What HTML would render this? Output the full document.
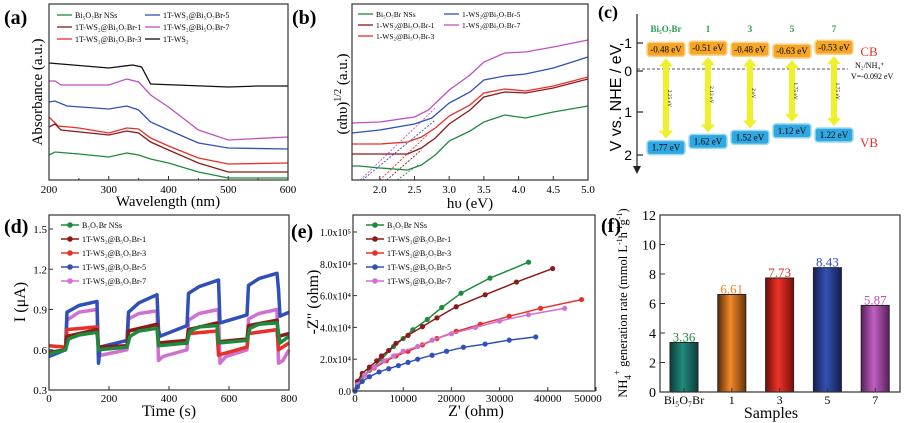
<!DOCTYPE html>
<html><head><meta charset="utf-8"><style>
html,body{margin:0;padding:0;background:#fff;}
svg{display:block;font-family:"Liberation Serif",serif;}
</style></head><body>
<svg id="fig" width="910" height="423" viewBox="0 0 910 423" xmlns="http://www.w3.org/2000/svg">
<defs>
<linearGradient id="gTeal" x1="0" x2="1"><stop offset="0" stop-color="#0c3d38"/><stop offset="0.45" stop-color="#1f8a7e"/><stop offset="1" stop-color="#0c3d38"/></linearGradient>
<linearGradient id="gOrange" x1="0" x2="1"><stop offset="0" stop-color="#5a2a05"/><stop offset="0.45" stop-color="#f5892a"/><stop offset="1" stop-color="#6a3308"/></linearGradient>
<linearGradient id="gRed" x1="0" x2="1"><stop offset="0" stop-color="#6a0e0a"/><stop offset="0.45" stop-color="#ee3328"/><stop offset="1" stop-color="#7a100c"/></linearGradient>
<linearGradient id="gBlue" x1="0" x2="1"><stop offset="0" stop-color="#151f55"/><stop offset="0.45" stop-color="#3550b0"/><stop offset="1" stop-color="#151f55"/></linearGradient>
<linearGradient id="gMag" x1="0" x2="1"><stop offset="0" stop-color="#5a1f5c"/><stop offset="0.45" stop-color="#c060c0"/><stop offset="1" stop-color="#5a1f5c"/></linearGradient>
</defs>
</svg>
<script>
// ---------- Panel (a) data ----------
const aWave = {
  black:[[200,1.17],[300,1.12],[340,1.15],[355,1.13],[370,0.96],[500,0.93],[550,0.94],[600,0.94]],
  magenta:[[200,0.99],[210,0.99],[220,0.95],[300,0.95],[330,1.01],[350,0.98],[370,0.85],[400,0.73],[450,0.50],[500,0.40],[600,0.43]],
  blue:[[200,0.78],[210,0.79],[230,0.74],[300,0.71],[330,0.74],[350,0.70],[370,0.58],[400,0.50],[450,0.37],[500,0.32],[600,0.31]],
  red:[[200,0.63],[215,0.54],[250,0.52],[300,0.47],[330,0.52],[350,0.51],[370,0.42],[400,0.34],[450,0.22],[500,0.16],[600,0.17]],
  darkred:[[200,0.53],[210,0.56],[220,0.50],[300,0.45],[330,0.49],[350,0.47],[370,0.38],[400,0.30],[450,0.17],[500,0.08],[600,0.08]],
  green:[[200,0.25],[210,0.28],[250,0.26],[300,0.23],[330,0.27],[350,0.25],[370,0.21],[400,0.17],[450,0.08],[500,0.02],[600,0.02]]
};
const aTicks = [200,300,400,500,600];
// ---------- Panel (b) data ----------
const bTauc = {
  magenta:[[1.6,0.57],[2.0,0.58],[2.5,0.63],[2.7,0.70],[3.0,0.90],[3.3,1.05],[3.5,1.18],[3.8,1.27],[4.1,1.28],[4.5,1.33],[5.0,1.40]],
  blue:[[1.6,0.47],[2.0,0.50],[2.5,0.56],[2.75,0.62],[3.0,0.77],[3.3,0.88],[3.5,1.00],[3.8,1.04],[4.1,1.06],[4.5,1.12],[5.0,1.23]],
  red:[[1.6,0.36],[2.0,0.36],[2.4,0.38],[2.6,0.43],[2.8,0.52],[3.0,0.64],[3.3,0.75],[3.5,0.87],[3.8,0.91],[4.1,0.89],[4.5,0.94],[5.0,1.03]],
  darkred:[[1.6,0.26],[2.0,0.26],[2.4,0.26],[2.6,0.32],[2.8,0.42],[3.0,0.56],[3.3,0.70],[3.5,0.83],[3.8,0.88],[4.1,0.87],[4.5,0.92],[5.0,1.01]],
  green:[[1.6,0.14],[1.7,0.14],[2.0,0.12],[2.4,0.10],[2.6,0.15],[2.8,0.25],[3.0,0.39],[3.3,0.49],[3.5,0.58],[3.8,0.65],[4.1,0.62],[4.5,0.68],[5.0,0.74]]
};
const bTangents = {magenta:[1.72,0,2.8,0.72],blue:[1.75,0,2.8,0.6],red:[2.0,0,2.7,0.46],darkred:[2.1,0,2.6,0.3],green:[2.25,0,2.55,0.15]};
const bTicks = [2.0,2.5,3.0,3.5,4.0,4.5,5.0];
// ---------- Panel (c) data ----------
const cSamples = ["Bi₅O₇Br","1","3","5","7"];
const cCB = [-0.48,-0.51,-0.48,-0.63,-0.53];
const cVB = [1.77,1.62,1.52,1.12,1.22];
const cGap = ["2.25 eV","2.13 eV","2 eV","1.75 eV","1.75 eV"];
const cTicks = [-1,0,1,2];
// ---------- Panel (d) data ----------
const dCurrent = {
  pink:[[0,0.57],[55,0.6],[60,0.82],[100,0.88],[160,0.9],[165,0.55],[175,0.56],[260,0.6],[265,0.83],[300,0.87],[360,0.89],[365,0.52],[380,0.55],[460,0.6],[465,0.82],[500,0.87],[565,0.9],[570,0.5],[590,0.55],[660,0.6],[665,0.83],[700,0.87],[760,0.9],[765,0.5],[780,0.52],[800,0.6]],
  blue:[[0,0.55],[55,0.6],[60,0.88],[100,0.93],[160,0.96],[165,0.5],[170,0.62],[260,0.67],[265,0.88],[300,0.95],[360,1.01],[365,0.75],[370,0.7],[460,0.78],[465,1.02],[500,1.07],[565,1.12],[570,0.8],[660,0.86],[665,1.08],[700,1.13],[760,1.17],[765,1.05],[770,0.85],[800,0.88]],
  red:[[0,0.63],[55,0.62],[60,0.75],[160,0.77],[165,0.62],[260,0.62],[265,0.74],[360,0.79],[365,0.64],[460,0.65],[465,0.72],[560,0.74],[565,0.56],[660,0.62],[665,0.72],[760,0.75],[765,0.6],[800,0.65]],
  darkred:[[0,0.58],[55,0.6],[60,0.7],[160,0.75],[165,0.62],[260,0.63],[265,0.74],[360,0.79],[365,0.65],[460,0.67],[465,0.75],[560,0.8],[565,0.66],[660,0.68],[665,0.78],[760,0.82],[765,0.7],[800,0.72]],
  green:[[0,0.57],[55,0.6],[65,0.68],[100,0.71],[160,0.73],[165,0.6],[260,0.62],[270,0.7],[300,0.74],[360,0.76],[365,0.63],[460,0.65],[470,0.74],[500,0.77],[560,0.78],[565,0.65],[660,0.67],[670,0.76],[700,0.79],[760,0.8],[770,0.65],[800,0.7]]
};
const dXTicks = [0,200,400,600,800];
const dYTicks = [0.3,0.6,0.9,1.2,1.5];
// ---------- Panel (e) data ----------
const eNyq = {
  green:[[0,0],[500,5000],[1500,9000],[3000,13000],[5500,20000],[8000,28000],[10000,33000],[12000,38500],[15000,45000],[18000,52500],[22000,61500],[28000,71000],[36000,81000]],
  darkred:[[0,0],[500,6000],[1500,11000],[3000,15000],[4500,19000],[5500,22000],[7000,25500],[8500,30000],[11000,35000],[14000,40500],[17000,46000],[21000,53000],[27000,60500],[33500,68500],[41000,77000]],
  red:[[0,0],[500,4000],[2000,10000],[4000,14500],[6500,19000],[8500,22000],[11000,25000],[14000,29000],[17000,33000],[21000,37500],[26000,42000],[32000,47000],[38500,52000],[47000,57500]],
  pink:[[0,0],[500,4000],[2000,10000],[4000,15000],[6000,19000],[8000,22000],[10000,25000],[13000,28000],[16000,32000],[20000,36000],[25000,40000],[30000,44000],[36000,48000],[43500,52000]],
  blue:[[0,0],[500,2500],[1500,6000],[3000,9000],[5000,12000],[7000,14000],[9000,16000],[11000,18000],[13000,20000],[16000,22500],[19000,25000],[22500,27500],[27000,29500],[32000,32000],[37500,34000]]
};
const eXTicks = [0,10000,20000,30000,40000,50000];
const eYTicks = [0,20000,40000,60000,80000,100000];
const eYLabels = ["0.0","2.0x10⁴","4.0x10⁴","6.0x10⁴","8.0x10⁴","1.0x10⁵"];
// ---------- Panel (f) data ----------
const fSamples = ["Bi₅O₇Br","1","3","5","7"];
const fRates = [3.36,6.61,7.73,8.43,5.87];
const fLabels = ["3.36","6.61","7.73","8.43","5.87"];
const fYTicks = [0,2,4,6,8,10,12];

const NS="http://www.w3.org/2000/svg";
const svg=document.getElementById('fig');
function add(tag,attrs,name,parent){
  const el=document.createElementNS(NS,tag);
  for(const k in attrs) el.setAttribute(k,attrs[k]);
  
  
  (parent||svg).appendChild(el);
  return el;
}
function txt(x,y,s,attrs,name,parent){
  const t=add('text',Object.assign({x:x,y:y},attrs||{}),name,parent);
  t.textContent=s; return t;
}
function lin(d0,d1,r0,r1){return v=>r0+(v-d0)*(r1-r0)/(d1-d0);}
function pathOf(pts,sx,sy){return pts.map((p,i)=>(i?'L':'M')+sx(p[0]).toFixed(1)+' '+sy(p[1]).toFixed(1)).join(' ');}
function frame(x0,y0,x1,y1,name){add('rect',{x:x0,y:y0,width:x1-x0,height:y1-y0,fill:'none',stroke:'#333','stroke-width':1.2},name);}
const C={green:'#1e8a3c',darkred:'#8b1a1a',red:'#e8302a',blue:'#3050b8',magenta:'#c050c0',pink:'#d070d0',black:'#111'};

// ================= (a) =================
(function(){
  const sx=lin(200,600,49,288), sy=lin(0,1.76,180,4);
  const g=add('g',{},'panel-a');
  frame(49,4,288,180,'plot-frame-a');
  aTicks.forEach(v=>{add('line',{x1:sx(v),x2:sx(v),y1:180,y2:176,stroke:'#333'},'x-tick-a',g);
    txt(sx(v),193,String(v),{'font-size':11,'text-anchor':'middle'},'x-tick-label-a',g);});
  [250,350,450,550].forEach(v=>add('line',{x1:sx(v),x2:sx(v),y1:180,y2:178,stroke:'#333'},'x-minor-tick-a',g));
  for(const k in aWave){add('path',{d:pathOf(aWave[k],sx,sy),fill:'none',stroke:C[k],'stroke-width':1.3},'series-a-'+k,g);}
  txt(168,206,'Wavelength (nm)',{'font-size':15,'text-anchor':'middle'},'x-axis-title-a',g);
  txt(0,0,'Absorbance (a.u.)',{'font-size':15,'text-anchor':'middle',transform:'translate(42,92) rotate(-90)'},'y-axis-title-a',g);
  txt(4,24,'(a)',{'font-size':20,'font-weight':'bold'},'panel-label-a',g);
  const leg=[['green','Bi₅O₇Br NSs',57,15],['darkred','1T-WS₂@Bi₅O₇Br-1',57,27],['red','1T-WS₂@Bi₅O₇Br-3',57,39],
             ['blue','1T-WS₂@Bi₅O₇Br-5',145,15],['magenta','1T-WS₂@Bi₅O₇Br-7',145,27],['black','1T-WS₂',145,39]];
  leg.forEach(l=>{add('line',{x1:l[2],x2:l[2]+15,y1:l[3],y2:l[3],stroke:C[l[0]],'stroke-width':1.3},'legend-swatch-a',g);
    txt(l[2]+18,l[3]+3,l[1],{'font-size':8},'legend-entry-a',g);});
})();

// ================= (b) =================
(function(){
  const sx=lin(1.6,5.0,352,588), sy=lin(0,1.76,180,4);
  const g=add('g',{},'panel-b');
  frame(352,4,588,180,'plot-frame-b');
  bTicks.forEach(v=>{add('line',{x1:sx(v),x2:sx(v),y1:180,y2:176,stroke:'#333'},'x-tick-b',g);
    txt(sx(v),193,v.toFixed(1),{'font-size':11,'text-anchor':'middle'},'x-tick-label-b',g);});
  for(const k in bTangents){const t=bTangents[k];
    add('line',{x1:sx(t[0]),y1:sy(t[1]),x2:sx(t[2]),y2:sy(t[3]),stroke:C[k],'stroke-width':0.9,'stroke-dasharray':'2,1.5'},'tangent-b-'+k,g);}
  for(const k in bTauc){add('path',{d:pathOf(bTauc[k],sx,sy),fill:'none',stroke:C[k],'stroke-width':1.3},'series-b-'+k,g);}
  txt(470,208,'hυ (eV)',{'font-size':15,'text-anchor':'middle'},'x-axis-title-b',g);
  const yl=add('text',{'font-size':15,'text-anchor':'middle',transform:'translate(347,94) rotate(-90)'},'y-axis-title-b',g);
  yl.innerHTML='(αhυ)<tspan font-size="10" dy="-6">1/2</tspan><tspan dy="6"> (a.u.)</tspan>';
  txt(292,24,'(b)',{'font-size':20,'font-weight':'bold'},'panel-label-b',g);
  const leg=[['green','Bi₅O₇Br NSs',358,14],['darkred','1-WS₂@Bi₅O₇Br-1',358,25],['red','1-WS₂@Bi₅O₇Br-3',358,36],
             ['blue','1-WS₂@Bi₅O₇Br-5',444,14],['magenta','1-WS₂@Bi₅O₇Br-7',444,25]];
  leg.forEach(l=>{add('line',{x1:l[2],x2:l[2]+15,y1:l[3],y2:l[3],stroke:C[l[0]],'stroke-width':1.3},'legend-swatch-b',g);
    txt(l[2]+18,l[3]+3,l[1],{'font-size':7.5},'legend-entry-b',g);});
})();

// ================= (c) =================
(function(){
  const sy=lin(0,1,71,112);
  const g=add('g',{},'panel-c');
  add('line',{x1:637,x2:637,y1:14,y2:168,stroke:'#222','stroke-width':1.2},'y-axis-c',g);
  add('path',{d:'M633 166 L637 174 L641 166 Z',fill:'#222'},'y-axis-arrow-c',g);
  cTicks.forEach(v=>{const y=v===-1?43:(v===2?155:sy(v));
    add('line',{x1:637,x2:643,y1:y,y2:y,stroke:'#222','stroke-width':1.2},'y-tick-c',g);
    txt(632,y+5,v===-1?'-1':String(v),{'font-size':14,'text-anchor':'end','font-family':'Liberation Sans, sans-serif'},'y-tick-label-c',g);});
  txt(0,0,'V vs. NHE / eV',{'font-size':16,'text-anchor':'middle','font-family':'Liberation Sans, sans-serif',transform:'translate(621,98) rotate(-90)'},'y-axis-title-c',g);
  txt(598,18,'(c)',{'font-size':18,'font-weight':'bold'},'panel-label-c',g);
  add('line',{x1:637,x2:848,y1:69,y2:69,stroke:'#222','stroke-width':0.8,'stroke-dasharray':'3,2'},'n2-nh4-potential-line',g);
  txt(855,68,'N₂/NH₄⁺',{'font-size':8},'n2-nh4-label',g);
  txt(851,79,'V=-0.092 eV',{'font-size':8},'n2-nh4-value',g);
  txt(869,56,'CB',{'font-size':13,fill:'#e8302a','text-anchor':'middle'},'cb-label',g);
  txt(869,147,'VB',{'font-size':13,fill:'#e8302a','text-anchor':'middle'},'vb-label',g);
  const cx=[666,708,750,792,834];
  cSamples.forEach((s,i)=>{
    txt(cx[i],32,s,{'font-size':9,fill:'#2a9a50','text-anchor':'middle','font-weight':'bold'},'sample-label-c',g);
    const ycb=sy(cCB[i])+(i===3?8:0)-2, yvb=sy(cVB[i])+(cVB[i]<1.3?14:4);
    add('rect',{x:cx[i]-19,y:ycb-7,width:38,height:14,rx:3,fill:'#f5a624',stroke:'#fbd38a','stroke-width':1.5},'cb-box',g);
    txt(cx[i],ycb+3,cCB[i].toFixed(2)+' eV',{'font-size':9,'text-anchor':'middle'},'cb-value',g);
    add('rect',{x:cx[i]-19,y:yvb-7,width:38,height:14,rx:3,fill:'#2fa8e2',stroke:'#9fdaf5','stroke-width':1.5},'vb-box',g);
    txt(cx[i],yvb+3,cVB[i].toFixed(2)+' eV',{'font-size':9,'text-anchor':'middle'},'vb-value',g);
    const y1=ycb+9,y2=yvb-9;
    add('path',{d:`M${cx[i]} ${y1} L${cx[i]+7} ${y1+8} L${cx[i]+3} ${y1+8} L${cx[i]+3} ${y2-8} L${cx[i]+7} ${y2-8} L${cx[i]} ${y2} L${cx[i]-7} ${y2-8} L${cx[i]-3} ${y2-8} L${cx[i]-3} ${y1+8} L${cx[i]-7} ${y1+8} Z`,fill:'#eef02a'},'band-gap-arrow',g);
    txt(0,0,cGap[i],{'font-size':5.5,'text-anchor':'middle',transform:`translate(${cx[i]+2},${(y1+y2)/2}) rotate(90)`},'band-gap-value',g);
  });
})();

// ================= (d) =================
(function(){
  const sx=lin(0,800,49,289), sy=lin(0.3,1.5,390,229);
  const g=add('g',{},'panel-d');
  frame(49,215,289,390,'plot-frame-d');
  dXTicks.forEach(v=>{add('line',{x1:sx(v),x2:sx(v),y1:390,y2:386,stroke:'#333'},'x-tick-d',g);
    txt(sx(v),402,String(v),{'font-size':11,'text-anchor':'middle'},'x-tick-label-d',g);});
  dYTicks.forEach(v=>{add('line',{x1:49,x2:53,y1:sy(v),y2:sy(v),stroke:'#333'},'y-tick-d',g);
    txt(47,sy(v)+4,v.toFixed(1),{'font-size':11,'text-anchor':'end'},'y-tick-label-d',g);});
  const order=['pink','blue','red','darkred','green'];
  order.forEach(k=>{add('path',{d:pathOf(dCurrent[k],sx,sy),fill:'none',stroke:C[k],'stroke-width':3.5,'stroke-linejoin':'round'},'series-d-'+k,g);});
  txt(169,416,'Time (s)',{'font-size':16,'text-anchor':'middle'},'x-axis-title-d',g);
  const yl=add('text',{'font-size':16,'text-anchor':'middle',transform:'translate(25,302) rotate(-90)'},'y-axis-title-d',g);
  yl.textContent='I (μA)';
  txt(4,233,'(d)',{'font-size':20,'font-weight':'bold'},'panel-label-d',g);
  const leg=[['green','B₅O₇Br NSs'],['darkred','1T-WS₂@B₅O₇Br-1'],['red','1T-WS₂@B₅O₇Br-3'],['blue','1T-WS₂@B₅O₇Br-5'],['pink','1T-WS₂@B₅O₇Br-7']];
  leg.forEach((l,i)=>{const y=225+i*14;
    add('line',{x1:61,x2:79,y1:y,y2:y,stroke:C[l[0]],'stroke-width':1.5},'legend-swatch-d',g);
    add('circle',{cx:70,cy:y,r:2.8,fill:C[l[0]]},'legend-marker-d',g);
    txt(82,y+3,l[1],{'font-size':8},'legend-entry-d',g);});
})();

// ================= (e) =================
(function(){
  const sx=lin(0,50000,355,596), sy=lin(0,100000,391,232);
  const g=add('g',{},'panel-e');
  frame(353,215,595,391,'plot-frame-e');
  eXTicks.forEach(v=>{add('line',{x1:sx(v),x2:sx(v),y1:391,y2:387,stroke:'#333'},'x-tick-e',g);
    txt(Math.min(sx(v),588),402,String(v),{'font-size':11,'text-anchor':'middle'},'x-tick-label-e',g);});
  eYTicks.forEach((v,i)=>{add('line',{x1:353,x2:357,y1:sy(v),y2:sy(v),stroke:'#333'},'y-tick-e',g);
    txt(351,sy(v)+4,eYLabels[i],{'font-size':10,'text-anchor':'end'},'y-tick-label-e',g);});
  ['green','darkred','red','pink','blue'].forEach(k=>{
    add('path',{d:pathOf(eNyq[k],sx,sy),fill:'none',stroke:C[k],'stroke-width':1.5},'series-e-'+k,g);
    eNyq[k].forEach(p=>add('circle',{cx:sx(p[0]),cy:sy(p[1]),r:2.6,fill:C[k]},'point-e-'+k,g));
  });
  txt(476,416,"Z' (ohm)",{'font-size':16,'text-anchor':'middle'},'x-axis-title-e',g);
  txt(0,0,'-Z" (ohm)',{'font-size':16,'text-anchor':'middle',transform:'translate(318,302) rotate(-90)'},'y-axis-title-e',g);
  txt(291,238,'(e)',{'font-size':20,'font-weight':'bold'},'panel-label-e',g);
  const leg=[['green','B₅O₇Br NSs'],['darkred','1T-WS₂@B₅O₇Br-1'],['red','1T-WS₂@B₅O₇Br-3'],['blue','1T-WS₂@B₅O₇Br-5'],['pink','1T-WS₂@B₅O₇Br-7']];
  leg.forEach((l,i)=>{const y=225+i*14;
    add('line',{x1:366,x2:384,y1:y,y2:y,stroke:C[l[0]],'stroke-width':1.5},'legend-swatch-e',g);
    add('circle',{cx:375,cy:y,r:2.8,fill:C[l[0]]},'legend-marker-e',g);
    txt(387,y+3,l[1],{'font-size':8},'legend-entry-e',g);});
})();

// ================= (f) =================
(function(){
  const sy=lin(0,12,392,215);
  const sx=i=>684+i*47.8;
  const g=add('g',{},'panel-f');
  frame(660,215,900,392,'plot-frame-f');
  fYTicks.forEach(v=>{add('line',{x1:660,x2:665,y1:sy(v),y2:sy(v),stroke:'#333'},'y-tick-f',g);
    txt(656,sy(v)+5,String(v),{'font-size':14,'text-anchor':'end'},'y-tick-label-f',g);});
  const fills=['url(#gTeal)','url(#gOrange)','url(#gRed)','url(#gBlue)','url(#gMag)'];
  const tcol=['#1e8a3c','#f08020','#e8302a','#3050b8','#c050c0'];
  fRates.forEach((v,i)=>{
    add('rect',{x:sx(i)-14,y:sy(v),width:28,height:sy(0)-sy(v),fill:fills[i],stroke:'#222','stroke-width':1},'bar-'+i,g);
    txt(sx(i),sy(v)-1,fLabels[i],{'font-size':13,fill:tcol[i],'text-anchor':'middle'},'bar-value-label',g);
    add('line',{x1:sx(i),x2:sx(i),y1:392,y2:388,stroke:'#333'},'x-tick-f',g);
    txt(sx(i),404,fSamples[i],{'font-size':12,'text-anchor':'middle'},'x-tick-label-f',g);
  });
  txt(771,418,'Samples',{'font-size':16,'text-anchor':'middle'},'x-axis-title-f',g);
  const yl=add('text',{'font-size':12.5,'text-anchor':'middle',transform:'translate(627,303) rotate(-90)'},'y-axis-title-f',g);
  yl.innerHTML='NH<tspan font-size="9" dy="4">4</tspan><tspan font-size="9" dy="-11">+</tspan><tspan dy="7"> generation rate (mmol L</tspan><tspan font-size="8" dy="-5">-1</tspan><tspan dy="5">h</tspan><tspan font-size="8" dy="-5">-1</tspan><tspan dy="5">g</tspan><tspan font-size="8" dy="-5">-1</tspan><tspan dy="5">)</tspan>';
  txt(601,232,'(f)',{'font-size':20,'font-weight':'bold'},'panel-label-f',g);
})();
</script>
</body></html>
